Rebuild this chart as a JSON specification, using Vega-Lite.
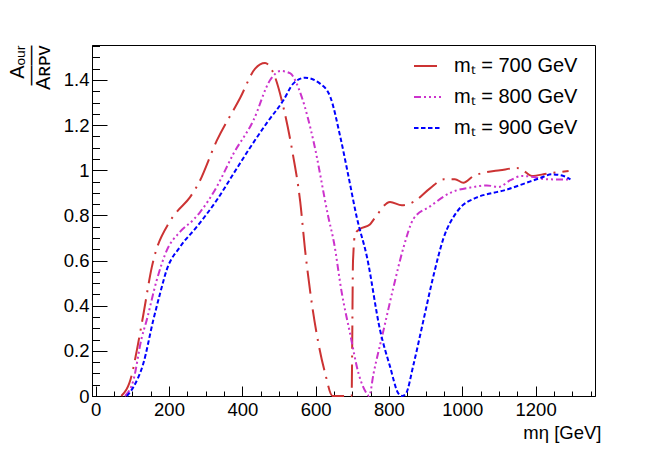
{
  "$schema": "https://vega.github.io/schema/vega-lite/v6.json",
  "width": 503,
  "height": 351,
  "autosize": "none",
  "padding": {"left": 92, "top": 45, "right": 69, "bottom": 56},
  "background": "white",
  "config": {
    "font": "Liberation Sans",
    "view": {"stroke": "black", "strokeWidth": 1}
  },
  "data": {
    "values": [
      {"s": "mₜ = 700 GeV", "m": 70, "r": 0},
      {"s": "mₜ = 700 GeV", "m": 98, "r": 0.09},
      {"s": "mₜ = 700 GeV", "m": 112, "r": 0.2},
      {"s": "mₜ = 700 GeV", "m": 130, "r": 0.36},
      {"s": "mₜ = 700 GeV", "m": 153, "r": 0.57},
      {"s": "mₜ = 700 GeV", "m": 201, "r": 0.77},
      {"s": "mₜ = 700 GeV", "m": 221, "r": 0.815},
      {"s": "mₜ = 700 GeV", "m": 257, "r": 0.88},
      {"s": "mₜ = 700 GeV", "m": 280, "r": 0.94},
      {"s": "mₜ = 700 GeV", "m": 330, "r": 1.13},
      {"s": "mₜ = 700 GeV", "m": 394, "r": 1.32},
      {"s": "mₜ = 700 GeV", "m": 435, "r": 1.45},
      {"s": "mₜ = 700 GeV", "m": 462, "r": 1.475},
      {"s": "mₜ = 700 GeV", "m": 485, "r": 1.43},
      {"s": "mₜ = 700 GeV", "m": 512, "r": 1.28},
      {"s": "mₜ = 700 GeV", "m": 538, "r": 1.07},
      {"s": "mₜ = 700 GeV", "m": 558, "r": 0.86},
      {"s": "mₜ = 700 GeV", "m": 571, "r": 0.65},
      {"s": "mₜ = 700 GeV", "m": 587, "r": 0.44},
      {"s": "mₜ = 700 GeV", "m": 608, "r": 0.23},
      {"s": "mₜ = 700 GeV", "m": 626, "r": 0.1},
      {"s": "mₜ = 700 GeV", "m": 646, "r": 0},
      {"s": "mₜ = 700 GeV", "m": 698, "r": 0},
      {"s": "mₜ = 700 GeV", "m": 702, "r": 0.6},
      {"s": "mₜ = 700 GeV", "m": 708, "r": 0.72},
      {"s": "mₜ = 700 GeV", "m": 721, "r": 0.74},
      {"s": "mₜ = 700 GeV", "m": 748, "r": 0.76},
      {"s": "mₜ = 700 GeV", "m": 762, "r": 0.79},
      {"s": "mₜ = 700 GeV", "m": 803, "r": 0.86},
      {"s": "mₜ = 700 GeV", "m": 835, "r": 0.845},
      {"s": "mₜ = 700 GeV", "m": 867, "r": 0.86},
      {"s": "mₜ = 700 GeV", "m": 912, "r": 0.92},
      {"s": "mₜ = 700 GeV", "m": 950, "r": 0.96},
      {"s": "mₜ = 700 GeV", "m": 980, "r": 0.96},
      {"s": "mₜ = 700 GeV", "m": 1003, "r": 0.945},
      {"s": "mₜ = 700 GeV", "m": 1031, "r": 0.975},
      {"s": "mₜ = 700 GeV", "m": 1062, "r": 0.99},
      {"s": "mₜ = 700 GeV", "m": 1103, "r": 1.0},
      {"s": "mₜ = 700 GeV", "m": 1149, "r": 1.01},
      {"s": "mₜ = 700 GeV", "m": 1165, "r": 1.0},
      {"s": "mₜ = 700 GeV", "m": 1190, "r": 0.975},
      {"s": "mₜ = 700 GeV", "m": 1231, "r": 0.985},
      {"s": "mₜ = 700 GeV", "m": 1290, "r": 0.997},

      {"s": "mₜ = 800 GeV", "m": 80, "r": 0},
      {"s": "mₜ = 800 GeV", "m": 103, "r": 0.07},
      {"s": "mₜ = 800 GeV", "m": 125, "r": 0.254},
      {"s": "mₜ = 800 GeV", "m": 139, "r": 0.335},
      {"s": "mₜ = 800 GeV", "m": 166, "r": 0.51},
      {"s": "mₜ = 800 GeV", "m": 194, "r": 0.645},
      {"s": "mₜ = 800 GeV", "m": 230, "r": 0.727},
      {"s": "mₜ = 800 GeV", "m": 266, "r": 0.78},
      {"s": "mₜ = 800 GeV", "m": 285, "r": 0.815},
      {"s": "mₜ = 800 GeV", "m": 330, "r": 0.926},
      {"s": "mₜ = 800 GeV", "m": 376, "r": 1.074},
      {"s": "mₜ = 800 GeV", "m": 430, "r": 1.22},
      {"s": "mₜ = 800 GeV", "m": 476, "r": 1.4},
      {"s": "mₜ = 800 GeV", "m": 505, "r": 1.44},
      {"s": "mₜ = 800 GeV", "m": 530, "r": 1.43},
      {"s": "mₜ = 800 GeV", "m": 562, "r": 1.325},
      {"s": "mₜ = 800 GeV", "m": 594, "r": 1.13},
      {"s": "mₜ = 800 GeV", "m": 635, "r": 0.79},
      {"s": "mₜ = 800 GeV", "m": 650, "r": 0.68},
      {"s": "mₜ = 800 GeV", "m": 671, "r": 0.46},
      {"s": "mₜ = 800 GeV", "m": 694, "r": 0.276},
      {"s": "mₜ = 800 GeV", "m": 717, "r": 0.1},
      {"s": "mₜ = 800 GeV", "m": 740, "r": 0.01},
      {"s": "mₜ = 800 GeV", "m": 746, "r": 0},
      {"s": "mₜ = 800 GeV", "m": 758, "r": 0.1},
      {"s": "mₜ = 800 GeV", "m": 785, "r": 0.29},
      {"s": "mₜ = 800 GeV", "m": 812, "r": 0.48},
      {"s": "mₜ = 800 GeV", "m": 840, "r": 0.66},
      {"s": "mₜ = 800 GeV", "m": 867, "r": 0.785},
      {"s": "mₜ = 800 GeV", "m": 912, "r": 0.84},
      {"s": "mₜ = 800 GeV", "m": 967, "r": 0.9},
      {"s": "mₜ = 800 GeV", "m": 1031, "r": 0.926},
      {"s": "mₜ = 800 GeV", "m": 1067, "r": 0.933},
      {"s": "mₜ = 800 GeV", "m": 1099, "r": 0.926},
      {"s": "mₜ = 800 GeV", "m": 1131, "r": 0.956},
      {"s": "mₜ = 800 GeV", "m": 1163, "r": 0.975},
      {"s": "mₜ = 800 GeV", "m": 1194, "r": 0.97},
      {"s": "mₜ = 800 GeV", "m": 1231, "r": 0.96},
      {"s": "mₜ = 800 GeV", "m": 1294, "r": 0.959},

      {"s": "mₜ = 900 GeV", "m": 85, "r": 0},
      {"s": "mₜ = 900 GeV", "m": 103, "r": 0.04},
      {"s": "mₜ = 900 GeV", "m": 130, "r": 0.144},
      {"s": "mₜ = 900 GeV", "m": 157, "r": 0.335},
      {"s": "mₜ = 900 GeV", "m": 175, "r": 0.45},
      {"s": "mₜ = 900 GeV", "m": 194, "r": 0.56},
      {"s": "mₜ = 900 GeV", "m": 230, "r": 0.66},
      {"s": "mₜ = 900 GeV", "m": 276, "r": 0.75},
      {"s": "mₜ = 900 GeV", "m": 330, "r": 0.867},
      {"s": "mₜ = 900 GeV", "m": 376, "r": 0.985},
      {"s": "mₜ = 900 GeV", "m": 421, "r": 1.1},
      {"s": "mₜ = 900 GeV", "m": 467, "r": 1.21},
      {"s": "mₜ = 900 GeV", "m": 512, "r": 1.31},
      {"s": "mₜ = 900 GeV", "m": 539, "r": 1.384},
      {"s": "mₜ = 900 GeV", "m": 571, "r": 1.41},
      {"s": "mₜ = 900 GeV", "m": 612, "r": 1.384},
      {"s": "mₜ = 900 GeV", "m": 640, "r": 1.325},
      {"s": "mₜ = 900 GeV", "m": 667, "r": 1.15},
      {"s": "mₜ = 900 GeV", "m": 690, "r": 0.97},
      {"s": "mₜ = 900 GeV", "m": 712, "r": 0.793},
      {"s": "mₜ = 900 GeV", "m": 740, "r": 0.616},
      {"s": "mₜ = 900 GeV", "m": 776, "r": 0.29},
      {"s": "mₜ = 900 GeV", "m": 803, "r": 0.13},
      {"s": "mₜ = 900 GeV", "m": 826, "r": 0.01},
      {"s": "mₜ = 900 GeV", "m": 836, "r": 0},
      {"s": "mₜ = 900 GeV", "m": 846, "r": 0.01},
      {"s": "mₜ = 900 GeV", "m": 867, "r": 0.14},
      {"s": "mₜ = 900 GeV", "m": 894, "r": 0.335},
      {"s": "mₜ = 900 GeV", "m": 921, "r": 0.53},
      {"s": "mₜ = 900 GeV", "m": 949, "r": 0.7},
      {"s": "mₜ = 900 GeV", "m": 985, "r": 0.815},
      {"s": "mₜ = 900 GeV", "m": 1040, "r": 0.88},
      {"s": "mₜ = 900 GeV", "m": 1076, "r": 0.897},
      {"s": "mₜ = 900 GeV", "m": 1112, "r": 0.91},
      {"s": "mₜ = 900 GeV", "m": 1167, "r": 0.94},
      {"s": "mₜ = 900 GeV", "m": 1213, "r": 0.966},
      {"s": "mₜ = 900 GeV", "m": 1244, "r": 0.982},
      {"s": "mₜ = 900 GeV", "m": 1276, "r": 0.975},
      {"s": "mₜ = 900 GeV", "m": 1295, "r": 0.96}
    ]
  },
  "layer": [
    {
      "mark": {"type": "line", "strokeWidth": 2, "interpolate": "monotone"},
      "encoding": {
        "x": {
          "field": "m",
          "type": "quantitative",
          "scale": {"domain": [-10, 1362], "nice": false, "zero": false},
          "axis": {
            "values": [0, 200, 400, 600, 800, 1000, 1200],
            "labelExpr": "'' + datum.value",
            "grid": false,
            "tickSize": -10,
            "tickColor": "black",
            "domainColor": "black",
            "labelColor": "black",
            "labelFontSize": 18.5,
            "labelPadding": 14,
            "labelFlush": false,
            "title": "mη [GeV]",
            "titleFontSize": 18.5,
            "titleFontWeight": "normal",
            "titleColor": "black",
            "titleAlign": "right",
            "titleBaseline": "alphabetic",
            "titleX": 509,
            "titleY": 42
          }
        },
        "y": {
          "field": "r",
          "type": "quantitative",
          "scale": {"domain": [0, 1.555], "nice": false},
          "axis": {
            "values": [0, 0.2, 0.4, 0.6, 0.8, 1, 1.2, 1.4],
            "labelExpr": "'' + datum.value",
            "grid": false,
            "tickSize": -15,
            "tickColor": "black",
            "domainColor": "black",
            "labelColor": "black",
            "labelFontSize": 18.5,
            "labelPadding": 18,
            "labelFlush": false,
            "title": ["Aₒᵤᵣ", "——", "Aʀᴘᴠ"],
            "titleFontSize": 20,
            "titleLineHeight": 13,
            "titleFontWeight": "normal",
            "titleColor": "black",
            "titleAnchor": "end",
            "titlePadding": 10
          }
        },
        "color": {
          "field": "s",
          "type": "nominal",
          "scale": {"range": ["#cc3333", "#cc33cc", "#0000ff"]},
          "legend": {
            "title": null,
            "orient": "none",
            "legendX": 321,
            "legendY": 6.5,
            "symbolType": "stroke",
            "symbolSize": 729,
            "symbolStrokeWidth": 2,
            "rowPadding": 6,
            "labelOffset": 12,
            "labelFontSize": 20,
            "labelColor": "black",
            "padding": 0
          }
        },
        "strokeDash": {
          "field": "s",
          "type": "nominal",
          "scale": {"range": [[23, 7, 2, 7], [7, 3, 2, 3, 2, 3, 2, 3], [4.5, 2.5]]},
          "legend": {
            "title": null,
            "orient": "none",
            "legendX": 321,
            "legendY": 6.5,
            "symbolType": "stroke",
            "symbolSize": 729,
            "symbolStrokeWidth": 2,
            "rowPadding": 6,
            "labelOffset": 12,
            "labelFontSize": 20,
            "labelColor": "black",
            "padding": 0
          }
        }
      }
    },
    {
      "mark": {"type": "line", "opacity": 0},
      "encoding": {
        "x": {
          "field": "m",
          "type": "quantitative",
          "scale": {"domain": [-10, 1362], "nice": false, "zero": false},
          "axis": {
            "orient": "bottom",
            "values": [0, 50, 100, 150, 200, 250, 300, 350, 400, 450, 500, 550, 600, 650, 700, 750, 800, 850, 900, 950, 1000, 1050, 1100, 1150, 1200, 1250, 1300, 1350],
            "labels": false,
            "domain": false,
            "grid": false,
            "tickSize": -5,
            "tickColor": "black",
            "title": null
          }
        },
        "y": {
          "field": "r",
          "type": "quantitative",
          "scale": {"domain": [0, 1.555], "nice": false},
          "axis": {
            "orient": "left",
            "values": [0, 0.05, 0.1, 0.15, 0.2, 0.25, 0.3, 0.35, 0.4, 0.45, 0.5, 0.55, 0.6, 0.65, 0.7, 0.75, 0.8, 0.85, 0.9, 0.95, 1, 1.05, 1.1, 1.15, 1.2, 1.25, 1.3, 1.35, 1.4, 1.45, 1.5, 1.55],
            "labels": false,
            "domain": false,
            "grid": false,
            "tickSize": -7.5,
            "tickColor": "black",
            "title": null
          }
        },
        "detail": {"field": "s", "type": "nominal"}
      }
    }
  ],
  "resolve": {"axis": {"x": "independent", "y": "independent"}}
}
